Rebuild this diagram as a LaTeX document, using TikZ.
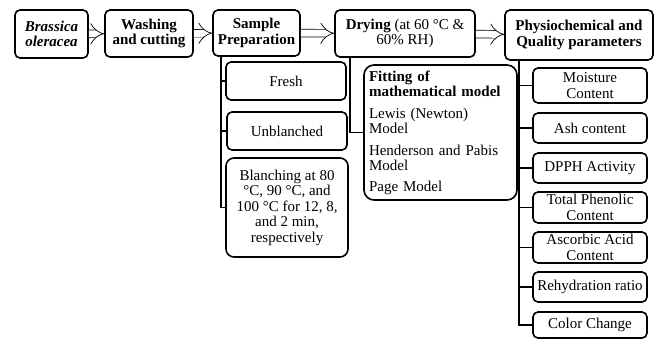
\documentclass[tikz,border=0pt]{standalone}
\usepackage{fontspec}
\setmainfont{Liberation Serif}
\usetikzlibrary{arrows.meta}

\tikzset{
  box/.style={draw, line width=1.6pt, rounded corners=5pt, align=center,
    inner sep=2pt, font=\fontsize{15}{15.5}\selectfont},
  flow/.style={double, double distance=7pt, line width=0.7pt, -{Implies}},
  branch/.style={line width=1.6pt},
}

\begin{document}
\begin{tikzpicture}[x=1pt,y=-1pt]
\useasboundingbox (0,0) rectangle (658,340);

% main chain
\node[box, minimum width=73, minimum height=48] (brassica) at (51.5,34)
  {\textbf{\textit{Brassica}}\\\textbf{\textit{oleracea}}};
\node[box, minimum width=88, minimum height=47] (washing) at (149,33.5)
  {\textbf{Washing}\\\textbf{and cutting}};
\node[box, minimum width=87, minimum height=46] (sample) at (256.5,33)
  {\textbf{Sample}\\\textbf{Preparation}};
\node[box, minimum width=140, minimum height=47] (drying) at (405,33.5)
  {\textbf{Drying} (at 60 °C \&\\60\% RH)};
\node[box, minimum width=148, minimum height=50] (physio) at (579,35)
  {\textbf{Physiochemical and}\\\textbf{Quality parameters}};

\draw[flow] (brassica) -- (washing);
\draw[flow] (washing) -- (sample);
\draw[flow] (sample) -- (drying);
\draw[flow] (drying) -- (physio);

% sample preparation
\node[box, minimum width=120, minimum height=38] (fresh) at (286,81) {Fresh};
\node[box, minimum width=120, minimum height=38] (unbl) at (287,131) {Unblanched};
\node[box, minimum width=122, minimum height=99, rounded corners=8pt] (blanch) at (287,207.5)
  {Blanching at 80\\°C, 90 °C, and\\100 °C for 12, 8,\\and 2 min,\\respectively};

\draw[branch] ([xshift=9pt]sample.south west) |- (fresh.west);
\draw[branch] ([xshift=9pt]sample.south west) |- (unbl.west);
\draw[branch] ([xshift=9pt]sample.south west) |- (blanch.west);

% drying models
\node[box, minimum width=153, minimum height=135, rounded corners=10pt,
  align=left, text width=143, inner sep=5pt] (fitting) at (440.5,132.5)
  {\textbf{Fitting of}\\\textbf{mathematical model}\\[6pt]
   Lewis (Newton)\\Model\\[6pt]
   Henderson and Pabis\\Model\\[5pt]
   Page Model};

\draw[branch] ([xshift=16pt]drying.south west) |- (fitting.west);

% quality parameters
\node[box, minimum width=114, minimum height=35] (moist) at (590,85.5) {Moisture\\Content};
\node[box, minimum width=114, minimum height=30] (ash) at (590,128) {Ash content};
\node[box, minimum width=114, minimum height=30] (dpph) at (590,168) {DPPH Activity};
\node[box, minimum width=114, minimum height=31] (phenol) at (590,207.5) {Total Phenolic\\Content};
\node[box, minimum width=114, minimum height=31] (ascorb) at (590,247.5) {Ascorbic Acid\\Content};
\node[box, minimum width=114, minimum height=30] (rehyd) at (590,287) {Rehydration ratio};
\node[box, minimum width=114, minimum height=26] (color) at (590,325) {Color Change};

\foreach \b in {moist,ash,dpph,phenol,ascorb,rehyd,color}
  \draw[branch] ([xshift=15pt]physio.south west) |- (\b.west);

\end{tikzpicture}
\end{document}
